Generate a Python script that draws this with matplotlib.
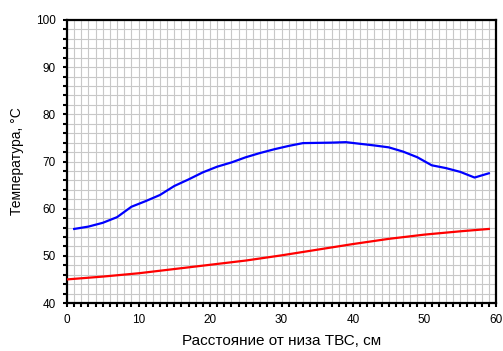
import numpy as np
import matplotlib.pyplot as plt
from matplotlib.ticker import MultipleLocator

plt.rcParams['font.family'] = ['Liberation Sans', 'DejaVu Sans']

# blue curve, measured every 2 cm
x_blue = [1, 3, 5, 7, 9, 11, 13, 15, 17, 19, 21, 23, 25, 27, 29,
          31, 33, 35, 37, 39, 41, 43, 45, 47, 49, 51, 53, 55, 57, 59]
t_blue = [55.7, 56.2, 57.0, 58.2, 60.4, 61.6, 62.9, 64.8, 66.2, 67.7,
          68.9, 69.8, 70.9, 71.8, 72.6, 73.3, 73.9, 73.95, 74.0, 74.1,
          73.75, 73.4, 73.0, 72.1, 70.9, 69.2, 68.6, 67.8, 66.6, 67.5]

# red curve
x_red = [0, 5, 10, 15, 20, 25, 30, 35, 40, 45, 50, 55, 59]
t_red = [45.0, 45.6, 46.3, 47.2, 48.1, 49.0, 50.1, 51.3, 52.5, 53.6, 54.5, 55.2, 55.7]

fig = plt.figure(figsize=(5.03, 3.51), dpi=100)
ax = fig.add_axes([67 / 503, 1 - 303 / 351, (496 - 67) / 503, (303 - 20) / 351])

ax.plot(x_blue, t_blue, color='#0000ff', lw=1.6, zorder=3)
ax.plot(x_red, t_red, color='#ff0000', lw=1.6, zorder=3)

ax.set_xlim(0, 60)
ax.set_ylim(40, 100)
ax.xaxis.set_major_locator(MultipleLocator(10))
ax.xaxis.set_minor_locator(MultipleLocator(1))
ax.yaxis.set_major_locator(MultipleLocator(10))
ax.yaxis.set_minor_locator(MultipleLocator(2))

ax.grid(True, which='both', color='#c8c8c8', lw=0.8, zorder=0)
ax.set_axisbelow(True)

for s in ax.spines.values():
    s.set_linewidth(1.6)
ax.tick_params(which='both', direction='out', length=3, width=1.5, labelsize=8.5, pad=5)

ax.set_xlabel('Расстояние от низа ТВС, см', fontsize=11, labelpad=6)
ax.set_ylabel('Температура, °C', fontsize=10, labelpad=9)

fig.savefig('out.png', dpi=100)
